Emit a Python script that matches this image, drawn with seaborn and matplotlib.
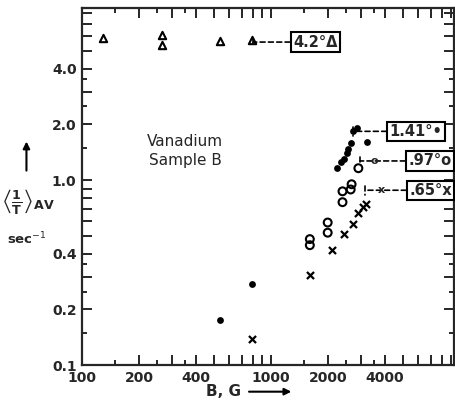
import numpy as np
import pandas as pd
import matplotlib
matplotlib.use('Agg')
import matplotlib.pyplot as plt
import seaborn as sns

# relaxation rate vs field, vanadium sample B
tri_B = [129, 264, 264, 540, 795]
tri_rate = [5.85, 6.05, 5.4, 5.65, 5.75]

dot_B = [539, 794, 2225, 2336, 2420, 2510, 2570, 2640, 2730, 2840, 3240]
dot_rate = [0.175, 0.274, 1.17, 1.25, 1.30, 1.40, 1.47, 1.58, 1.84, 1.91, 1.60]

circ_B = [1605, 1605, 1995, 1995, 2390, 2390, 2640, 2670, 2900]
circ_rate = [0.445, 0.48, 0.52, 0.59, 0.76, 0.87, 0.89, 0.95, 1.16]

cross_B = [794, 1605, 2090, 2420, 2730, 2870, 3050, 3200]
cross_rate = [0.138, 0.306, 0.418, 0.511, 0.578, 0.663, 0.714, 0.742]

x_ticks = [100, 200, 300, 400, 500, 600, 700, 800, 900,
           1000, 2000, 3000, 4000, 5000, 6000, 7000, 8000, 9000]
x_labels = {100: '100', 200: '200', 400: '400', 1000: '1000', 2000: '2000', 4000: '4000'}
x_minor = [150, 250, 350, 1500, 2500, 3500]

y_ticks = [0.1, 0.2, 0.3, 0.4, 0.5, 0.6, 0.7, 0.8, 0.9,
           1, 2, 3, 4, 5, 6, 7, 8]
y_labels = {0.1: '0.1', 0.2: '0.2', 0.4: '0.4', 1: '1.0', 2: '2.0', 4: '4.0'}
y_minor = [0.15, 0.25, 0.35, 1.5, 2.5, 3.5]

sns.set_style('ticks')
plt.rcParams['font.family'] = ['DejaVu Sans']

fig, ax = plt.subplots(figsize=(4.56, 4.08), dpi=100)
fig.subplots_adjust(left=0.18, right=0.9956, top=0.980, bottom=0.105)

df_tri = pd.DataFrame({'B': tri_B, 'rate': tri_rate})
df_dot = pd.DataFrame({'B': dot_B, 'rate': dot_rate})
df_circ = pd.DataFrame({'B': circ_B, 'rate': circ_rate})
df_cross = pd.DataFrame({'B': cross_B, 'rate': cross_rate})

sns.scatterplot(data=df_tri, x='B', y='rate', ax=ax, marker='^', s=28,
                facecolor='white', edgecolor='black', linewidth=1.5)
sns.scatterplot(data=df_dot, x='B', y='rate', ax=ax, marker='o', s=24,
                color='black', edgecolor='black', linewidth=0)
sns.scatterplot(data=df_circ, x='B', y='rate', ax=ax, marker='o', s=32,
                facecolor='none', edgecolor='black', linewidth=1.5)
sns.scatterplot(data=df_cross, x='B', y='rate', ax=ax, marker='x', s=26,
                color='black', linewidth=1.6)

ax.set_xscale('log')
ax.set_yscale('log')
ax.set_xlim(100, 9300)
ax.set_ylim(0.1, 8.5)

ax.set_xticks(x_ticks)
ax.set_xticklabels([x_labels.get(t, '') for t in x_ticks])
ax.set_xticks(x_minor, minor=True)
ax.set_yticks(y_ticks)
ax.set_yticklabels([y_labels.get(t, '') for t in y_ticks])
ax.set_yticks(y_minor, minor=True)
ax.xaxis.set_minor_formatter(matplotlib.ticker.NullFormatter())
ax.yaxis.set_minor_formatter(matplotlib.ticker.NullFormatter())

ax.tick_params(which='both', direction='in', top=True, right=True, width=1.4,
               labelsize=10)
ax.tick_params(which='major', length=7, pad=4)
ax.tick_params(which='minor', length=3.5)
for lab in ax.get_xticklabels() + ax.get_yticklabels():
    lab.set_fontweight('bold')
for sp in ax.spines.values():
    sp.set_linewidth(1.6)
    sp.set_visible(True)

ax.set_xlabel('')
ax.set_ylabel('')

ax.text(0.277, 0.60, 'Vanadium\nSample B', transform=ax.transAxes,
        ha='center', va='center', fontsize=11, linespacing=1.3)

# labelled leaders to the curves
boxes = [
    ('4.2°Δ', (0.460, 0.905), (0.627, 0.905)),
    ('1.41°•', (0.728, 0.655), (0.898, 0.655)),
    ('.97°o', (0.747, 0.572), (0.935, 0.572)),
    ('.65°x', (0.761, 0.490), (0.937, 0.490)),
]
for txt, start, centre in boxes:
    ax.annotate(txt, xy=start, xycoords='axes fraction', xytext=centre,
                textcoords='axes fraction', ha='center', va='center',
                fontsize=10.5, fontweight='bold', annotation_clip=False,
                bbox=dict(boxstyle='square,pad=0.15', fc='white', ec='black', lw=1.5),
                arrowprops=dict(arrowstyle=matplotlib.patches.ArrowStyle('|-|', widthA=0, widthB=0.3),
                                linestyle=(0, (3, 2)), lw=1.2, color='black',
                                shrinkA=0, shrinkB=0))
ax.text(0.785, 0.572, 'o', transform=ax.transAxes, ha='center', va='center',
        fontsize=8, fontweight='bold')
ax.text(0.805, 0.490, 'x', transform=ax.transAxes, ha='center', va='center',
        fontsize=8, fontweight='bold')

# axis labels drawn in figure space
fig.text(0.062, 0.505, r'$\left\langle\frac{\mathbf{1}}{\mathbf{T}}\right\rangle_{\mathbf{AV}}$',
         ha='center', va='center', fontsize=13)
fig.text(0.058, 0.415, r'sec$^{-1}$', ha='center', va='center',
         fontsize=9.5, fontweight='bold')
ax.annotate('', xy=(0.058, 0.66), xycoords='figure fraction',
            xytext=(0.058, 0.575), textcoords='figure fraction',
            arrowprops=dict(arrowstyle='-|>', lw=1.5, color='black', mutation_scale=10))
fig.text(0.49, 0.040, 'B, G', ha='center', va='center', fontsize=11, fontweight='bold')
ax.annotate('', xy=(0.645, 0.040), xycoords='figure fraction',
            xytext=(0.54, 0.040), textcoords='figure fraction',
            arrowprops=dict(arrowstyle='-|>', lw=1.5, color='black', mutation_scale=10))

fig.savefig('out.png', dpi=100)
